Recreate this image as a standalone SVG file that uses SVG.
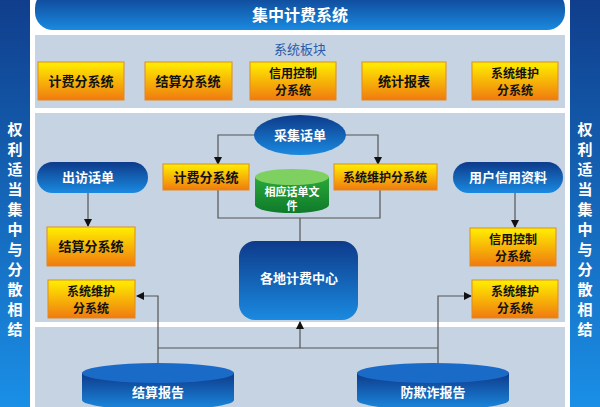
<svg xmlns="http://www.w3.org/2000/svg" width="600" height="407" viewBox="0 0 600 407">
<defs>
<linearGradient id="og" x1="0" y1="0" x2="0" y2="1"><stop offset="0" stop-color="#fff000"/><stop offset="1" stop-color="#f07a10"/></linearGradient>
<linearGradient id="bg" x1="0" y1="0" x2="0" y2="1"><stop offset="0" stop-color="#0e3a8a"/><stop offset="1" stop-color="#1a8ae0"/></linearGradient>
<linearGradient id="side" x1="0" y1="0" x2="0" y2="1"><stop offset="0" stop-color="#103e8c"/><stop offset="1" stop-color="#1a8fe6"/></linearGradient>
<linearGradient id="gg" x1="0" y1="0" x2="0" y2="1"><stop offset="0" stop-color="#2aa83a"/><stop offset="1" stop-color="#0e7a2a"/></linearGradient>
<marker id="ar" markerWidth="8" markerHeight="8" refX="7" refY="4" orient="auto" markerUnits="userSpaceOnUse"><path d="M0,0L8,4L0,8z" fill="#111"/></marker>
</defs>
<style>
text{font-family:"Noto Sans CJK SC","Liberation Sans",sans-serif;text-anchor:middle}
.ob{fill:url(#og);stroke:#e08a20;stroke-width:1}
.ot{font-size:13px;fill:#111;font-weight:bold}
.o2{font-size:12px;fill:#111;font-weight:bold}
.wt{font-size:13px;fill:#fff;font-weight:bold}
.w2{font-size:11px;fill:#fff;font-weight:bold}
.ln{stroke:#555;stroke-width:1.2;fill:none}
.vt{font-size:15px;fill:#fff;font-weight:bold}
</style>
<rect width="600" height="407" fill="#fff"/>
<rect x="0" y="0" width="30" height="407" fill="url(#side)"/>
<rect x="570" y="0" width="30" height="407" fill="url(#side)"/>
<rect x="35" y="35" width="530" height="73" fill="#c6d3e3"/>
<rect x="35" y="113" width="530" height="209" fill="#c6d3e3"/>
<rect x="35" y="327" width="530" height="80" fill="#c6d3e3"/>
<g id="title"><rect x="35" y="-10" width="530" height="40" rx="18" fill="url(#bg)"/><text x="300" y="21" style="font-size:16px;fill:#fff;font-weight:bold">集中计费系统</text></g>
<text x="300" y="54" style="font-size:13px;fill:#2a5aa8">系统板块</text>
<g id="sideL"><text class="vt" x="15" y="135">权</text><text class="vt" x="15" y="155">利</text><text class="vt" x="15" y="175">适</text><text class="vt" x="15" y="195">当</text><text class="vt" x="15" y="215">集</text><text class="vt" x="15" y="235">中</text><text class="vt" x="15" y="255">与</text><text class="vt" x="15" y="275">分</text><text class="vt" x="15" y="295">散</text><text class="vt" x="15" y="315">相</text><text class="vt" x="15" y="335">结</text></g>
<g id="sideR"><text class="vt" x="585" y="135">权</text><text class="vt" x="585" y="155">利</text><text class="vt" x="585" y="175">适</text><text class="vt" x="585" y="195">当</text><text class="vt" x="585" y="215">集</text><text class="vt" x="585" y="235">中</text><text class="vt" x="585" y="255">与</text><text class="vt" x="585" y="275">分</text><text class="vt" x="585" y="295">散</text><text class="vt" x="585" y="315">相</text><text class="vt" x="585" y="335">结</text></g>
<g id="t1"><rect class="ob" x="38" y="62" width="86" height="38"/><text class="ot" x="81" y="86">计费分系统</text></g>
<g id="t2"><rect class="ob" x="145" y="62" width="87" height="38"/><text class="ot" x="188" y="86">结算分系统</text></g>
<g id="t3"><rect class="ob" x="250" y="62" width="86" height="38"/><text class="o2" x="293" y="78">信用控制</text><text class="o2" x="293" y="95">分系统</text></g>
<g id="t4"><rect class="ob" x="362" y="62" width="84" height="38"/><text class="ot" x="404" y="86">统计报表</text></g>
<g id="t5"><rect class="ob" x="472" y="62" width="86" height="38"/><text class="o2" x="515" y="78">系统维护</text><text class="o2" x="515" y="95">分系统</text></g>
<g id="connectors">
<path class="ln" d="M255,135H218V164" marker-end="url(#ar)"/>
<path class="ln" d="M345,135H378V164" marker-end="url(#ar)"/>
<path class="ln" d="M218,190V218H380V190M300,218V241"/>
<path class="ln" d="M88,193V226" marker-end="url(#ar)"/>
<path class="ln" d="M515,193V227" marker-end="url(#ar)"/>
<path class="ln" d="M158,348H438M158,372V296H137" marker-end="url(#ar)"/>
<path class="ln" d="M438,368V296H471" marker-end="url(#ar)"/>
<path class="ln" d="M300,348V322" marker-end="url(#ar)"/>
</g>
<g id="caiji"><ellipse cx="300" cy="135" rx="46" ry="20" fill="url(#bg)"/><text class="wt" x="300" y="140">采集话单</text></g>
<g id="m1"><rect class="ob" x="163" y="164" width="86" height="26"/><text class="ot" x="206" y="182">计费分系统</text></g>
<g id="m2"><rect class="ob" x="334" y="164" width="103" height="26"/><text class="o2" x="385" y="182">系统维护分系统</text></g>
<g id="file"><path d="M255,177V205A37,8 0 0 0 329,205V177z" fill="url(#gg)"/><ellipse cx="292" cy="177" rx="37" ry="8" fill="#7ed060"/><text class="w2" x="292" y="196">相应话单文</text><text class="w2" x="292" y="210">件</text></g>
<g id="center"><rect x="239" y="241" width="119" height="79" rx="16" fill="url(#bg)"/><text class="wt" x="299" y="283">各地计费中心</text></g>
<g id="chufang"><rect x="37" y="162" width="111" height="31" rx="15.5" fill="url(#bg)"/><text class="wt" x="88" y="182">出访话单</text></g>
<g id="l1"><rect class="ob" x="47" y="227" width="88" height="39"/><text class="ot" x="91" y="251">结算分系统</text></g>
<g id="l2"><rect class="ob" x="48" y="280" width="87" height="38"/><text class="o2" x="91" y="296">系统维护</text><text class="o2" x="91" y="313">分系统</text></g>
<g id="yonghu"><rect x="453" y="162" width="110" height="31" rx="15.5" fill="url(#bg)"/><text class="wt" x="508" y="182">用户信用资料</text></g>
<g id="r1"><rect class="ob" x="470" y="228" width="86" height="38"/><text class="o2" x="513" y="244">信用控制</text><text class="o2" x="513" y="261">分系统</text></g>
<g id="r2"><rect class="ob" x="472" y="280" width="86" height="38"/><text class="o2" x="515" y="296">系统维护</text><text class="o2" x="515" y="313">分系统</text></g>
<g id="jiesuan"><path d="M82,373V400A76,10 0 0 0 234,400V373z" fill="url(#bg)"/><ellipse cx="158" cy="373" rx="76" ry="10" fill="#1a6ac8"/><text class="wt" x="158" y="397">结算报告</text></g>
<g id="fangqi"><path d="M357,373V400A76,10 0 0 0 509,400V373z" fill="url(#bg)"/><ellipse cx="433" cy="373" rx="76" ry="10" fill="#1a6ac8"/><text class="wt" x="433" y="397">防欺诈报告</text></g>
</svg>
